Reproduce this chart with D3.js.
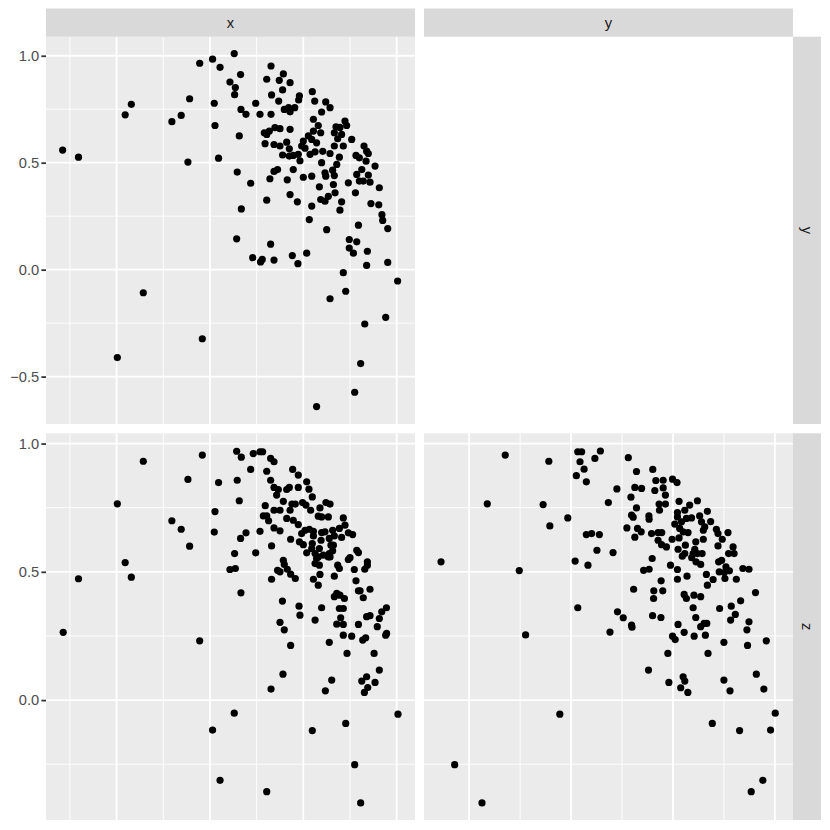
<!DOCTYPE html>
<html>
<head>
<meta charset="utf-8">
<script src="https://cdn.jsdelivr.net/npm/d3@7"></script>
<style>
  body { margin: 0; background: #fff; }
  svg text { font-family: "Liberation Sans", Arial, sans-serif; }
</style>
</head>
<body>
<div class="vis-facets"></div>
<script>
// facet labels
const colVars = ["x", "y"];
const rowVars = ["y", "z"];

// panel x|y : [x, y]
const panelXY = [
  [-0.789,0.559],[-0.704,0.526],[-0.454,0.724],[-0.421,0.773],[-0.204,0.692],[-0.154,0.721],[-0.109,0.799],[-0.118,0.503],[-0.055,0.965],[0.014,0.984],
  [0.054,0.946],[0.130,1.010],[0.023,0.778],[0.027,0.674],[0.046,0.521],[0.107,0.877],[0.136,0.851],[0.132,0.818],[0.164,0.912],[0.166,0.749],
  [0.193,0.726],[0.157,0.625],[0.146,0.456],[0.168,0.284],[0.218,0.404],[0.245,0.778],[0.268,0.726],[0.327,0.952],[0.304,0.890],[0.371,0.885],
  [0.393,0.915],[0.429,0.874],[0.389,0.840],[0.330,0.817],[0.368,0.788],[0.479,0.812],[0.475,0.793],[0.327,0.726],[0.398,0.749],[0.421,0.757],
  [0.454,0.757],[0.429,0.738],[0.548,0.832],[0.561,0.788],[0.620,0.784],[0.598,0.737],[0.643,0.757],[0.291,0.640],[0.318,0.648],[0.348,0.664],
  [0.375,0.659],[0.429,0.656],[0.295,0.589],[0.304,0.632],[0.343,0.585],[0.375,0.578],[0.411,0.596],[0.425,0.565],[0.389,0.536],[0.425,0.531],
  [0.446,0.534],[0.473,0.539],[0.482,0.509],[0.491,0.578],[0.500,0.601],[0.509,0.568],[0.527,0.625],[0.554,0.648],[0.580,0.674],[0.554,0.703],
  [0.593,0.640],[0.545,0.609],[0.571,0.593],[0.536,0.539],[0.563,0.551],[0.598,0.500],[0.604,0.553],[0.643,0.543],[0.675,0.668],[0.696,0.665],
  [0.723,0.695],[0.732,0.674],[0.666,0.640],[0.684,0.612],[0.705,0.632],[0.759,0.609],[0.714,0.578],[0.666,0.578],[0.693,0.526],[0.679,0.492],
  [0.657,0.465],[0.666,0.440],[0.661,0.398],[0.620,0.437],[0.616,0.453],[0.586,0.387],[0.545,0.437],[0.500,0.432],[0.446,0.468],[0.414,0.420],
  [0.321,0.425],[0.343,0.459],[0.362,0.468],[0.429,0.351],[0.468,0.317],[0.304,0.325],[0.545,0.297],[0.593,0.328],[0.616,0.320],[0.634,0.343],
  [0.670,0.359],[0.705,0.317],[0.696,0.278],[0.741,0.406],[0.779,0.359],[0.786,0.445],[0.800,0.414],[0.782,0.534],[0.800,0.523],[0.813,0.468],
  [0.825,0.578],[0.839,0.554],[0.848,0.543],[0.836,0.507],[0.848,0.442],[0.821,0.414],[0.857,0.409],[0.884,0.484],[0.907,0.383],[0.862,0.309],
  [0.904,0.303],[0.921,0.257],[0.532,0.234],
  [0.925,0.230],[0.143,0.144],[0.625,0.187],[0.795,0.208],[0.952,0.192],[0.325,0.119],[0.746,0.141],[0.786,0.130],[0.746,0.101],[0.768,0.077],
  [0.843,0.086],[0.229,0.056],[0.271,0.036],[0.280,0.048],[0.343,0.045],[0.441,0.066],[0.471,0.028],[0.518,0.077],[0.839,0.020],[0.952,0.034],
  [0.714,-0.014],[1.005,-0.053],[-0.357,-0.108],[0.643,-0.136],[0.727,-0.101],[0.941,-0.223],[0.829,-0.254],[-0.041,-0.323],[-0.496,-0.411],[0.807,-0.439],
  [0.775,-0.573],[0.571,-0.640]
];

// panel x|z : [x, z]
const panelXZ = [
  [-0.704,0.473],[-0.496,0.765],[-0.454,0.536],[-0.421,0.479],[-0.357,0.931],[-0.204,0.699],[-0.154,0.666],[-0.118,0.860],[-0.109,0.600],[-0.041,0.955],
  [0.027,0.735],[0.023,0.655],[0.046,0.848],[0.143,0.970],[0.168,0.947],[0.146,0.857],[0.157,0.777],[0.193,0.652],[0.164,0.630],[0.132,0.571],
  [0.107,0.509],[0.136,0.513],[0.166,0.418],[0.218,0.899],[0.232,0.961],[0.268,0.968],[0.282,0.968],[0.245,0.574],[0.268,0.658],[0.296,0.758],
  [0.286,0.718],[0.304,0.718],[0.314,0.699],[0.304,0.892],[0.325,0.942],[0.343,0.929],[0.325,0.857],[0.343,0.829],[0.366,0.821],[0.357,0.799],
  [0.393,0.775],[0.343,0.740],[0.375,0.740],[0.330,0.601],[0.343,0.671],[0.375,0.660],[0.411,0.821],[0.425,0.829],[0.443,0.899],[0.473,0.877],
  [0.473,0.829],[0.439,0.764],[0.457,0.764],[0.429,0.740],[0.411,0.708],[0.446,0.701],[0.473,0.684],[0.496,0.770],[0.514,0.760],[0.539,0.740],
  [0.518,0.851],[0.530,0.822],[0.548,0.792],[0.589,0.749],[0.580,0.717],[0.598,0.714],[0.634,0.714],[0.621,0.770],[0.643,0.764],[0.491,0.649],
  [0.509,0.662],[0.532,0.666],[0.554,0.658],[0.554,0.640],[0.432,0.627],[0.479,0.617],[0.500,0.606],[0.548,0.610],[0.598,0.653],[0.616,0.656],
  [0.595,0.623],[0.639,0.630],[0.657,0.662],[0.666,0.640],[0.693,0.669],[0.714,0.710],[0.723,0.682],[0.705,0.634],[0.741,0.652],[0.764,0.645],
  [0.518,0.574],[0.545,0.591],[0.563,0.571],[0.571,0.552],[0.580,0.558],[0.586,0.591],[0.607,0.565],[0.634,0.558],[0.639,0.571],[0.648,0.604],
  [0.661,0.604],[0.657,0.582],[0.643,0.558],[0.563,0.532],[0.586,0.526],[0.589,0.490],[0.554,0.471],[0.580,0.448],[0.598,0.360],[0.666,0.483],
  [0.684,0.526],[0.693,0.513],[0.741,0.548],[0.750,0.555],[0.786,0.584],[0.795,0.575],[0.773,0.509],[0.782,0.465],[0.795,0.426],[0.804,0.426],
  [0.821,0.399],[0.829,0.510],[0.843,0.539],[0.843,0.526],[0.857,0.432],[0.666,0.403],[0.679,0.416],[0.696,0.409],[0.720,0.396],[0.693,0.357],
  [0.714,0.357],[0.700,0.321],[0.388,0.386],[0.477,0.366],[0.482,0.331],[0.563,0.312],[0.375,0.303],[0.362,0.506],[0.375,0.500],[0.330,0.471],
  [0.393,0.545],[0.398,0.529],[0.414,0.510],[0.432,0.491],[0.457,0.474],[0.795,0.295],[0.839,0.325],[0.857,0.329],[0.907,0.318],[0.920,0.344],
  [0.945,0.360],[0.679,0.296],[0.714,0.295],[0.896,0.286],
  [-0.786,0.264],[-0.055,0.231],[0.398,0.274],[0.432,0.213],[0.714,0.253],[0.759,0.249],[0.818,0.234],[0.834,0.243],[0.946,0.260],[0.941,0.253],
  [0.639,0.225],[0.734,0.182],[0.879,0.182],[0.907,0.117],[0.391,0.101],[0.652,0.078],[0.839,0.091],[0.813,0.074],[0.884,0.069],[0.845,0.049],
  [0.827,0.030],[0.618,0.036],[0.327,0.043],[0.130,-0.051],[0.014,-0.117],[0.548,-0.119],[0.727,-0.091],[1.007,-0.055],[0.775,-0.252],[0.054,-0.313],
  [0.304,-0.357],[0.807,-0.401]
];

// panel y|z : [y, z]
const panelYZ = [
  [-0.638,0.539],[-0.254,0.505],[-0.323,0.955],[-0.411,0.765],[-0.137,0.762],[-0.109,0.931],[-0.104,0.679],[-0.016,0.710],[0.020,0.542],[0.083,0.526],
  [0.033,0.360],[0.033,0.968],[0.052,0.968],[0.044,0.929],[0.064,0.900],[0.026,0.875],[0.075,0.851],[0.117,0.942],[0.144,0.971],[0.225,0.823],
  [0.183,0.770],[0.075,0.645],[0.101,0.649],[0.139,0.645],[0.127,0.584],[0.206,0.575],[0.228,0.344],[0.256,0.321],[0.281,0.945],[0.321,0.891],
  [0.401,0.899],[0.313,0.829],[0.346,0.825],[0.294,0.791],[0.416,0.856],[0.452,0.857],[0.411,0.817],[0.452,0.827],[0.463,0.799],[0.498,0.861],
  [0.520,0.848],[0.321,0.749],[0.432,0.764],[0.463,0.764],[0.434,0.740],[0.297,0.721],[0.305,0.713],[0.382,0.718],[0.383,0.705],[0.274,0.671],
  [0.326,0.669],[0.344,0.656],[0.313,0.635],[0.395,0.649],[0.427,0.653],[0.445,0.653],[0.427,0.623],[0.444,0.606],[0.468,0.597],[0.496,0.627],
  [0.530,0.775],[0.522,0.731],[0.558,0.740],[0.582,0.760],[0.620,0.777],[0.522,0.714],[0.509,0.686],[0.542,0.695],[0.566,0.708],[0.591,0.710],
  [0.631,0.718],[0.669,0.736],[0.640,0.695],[0.685,0.696],[0.533,0.669],[0.550,0.656],[0.574,0.653],[0.530,0.632],[0.649,0.662],[0.656,0.675],
  [0.713,0.666],[0.721,0.649],[0.770,0.653],[0.742,0.627],[0.649,0.627],[0.612,0.617],[0.561,0.604],[0.525,0.588],[0.546,0.561],[0.558,0.571],
  [0.607,0.588],[0.599,0.571],[0.620,0.571],[0.643,0.571],[0.592,0.555],[0.613,0.539],[0.636,0.529],[0.721,0.601],[0.795,0.597],[0.773,0.571],
  [0.800,0.571],[0.724,0.539],[0.739,0.545],[0.760,0.519],[0.727,0.500],[0.752,0.497],[0.777,0.504],[0.755,0.474],[0.811,0.471],[0.843,0.513],
  [0.873,0.510],[0.905,0.419],[0.832,0.387],[0.786,0.366],[0.806,0.334],[0.783,0.312],[0.873,0.305],[0.729,0.357],[0.697,0.470],[0.669,0.448],
  [0.664,0.490],[0.569,0.483],[0.522,0.471],[0.522,0.509],[0.488,0.526],[0.398,0.552],[0.356,0.506],[0.383,0.510],[0.442,0.465],[0.406,0.426],
  [0.450,0.426],[0.405,0.396],[0.307,0.432],[0.555,0.412],[0.566,0.396],[0.603,0.409],[0.636,0.403],[0.599,0.360],[0.612,0.322],[0.653,0.299],
  [0.666,0.299],[0.400,0.329],[0.441,0.322],[0.525,0.295],[0.297,0.292],
  [-0.223,0.254],[0.191,0.265],[0.299,0.284],[0.555,0.264],[0.498,0.249],[0.511,0.236],[0.604,0.249],[0.636,0.286],[0.659,0.253],[0.863,0.274],
  [0.750,0.225],[0.866,0.213],[0.958,0.231],[0.475,0.182],[0.672,0.182],[0.380,0.117],[0.480,0.069],[0.550,0.091],[0.558,0.074],[0.538,0.048],
  [0.573,0.030],[0.750,0.078],[0.780,0.036],[0.909,0.101],[0.946,0.043],[-0.055,-0.055],[0.693,-0.091],[0.827,-0.119],[0.979,-0.117],[1.002,-0.051],
  [-0.571,-0.252],[-0.437,-0.401],[0.941,-0.313],[0.884,-0.357]
];

// grid breaks
const majorBreaks = [-0.5, 0, 0.5, 1];
const minorBreaks = [-0.75, -0.25, 0.25, 0.75];

const draw = () => {
  const width = 830, height = 830;
  const colRange = [[46, 415], [424, 793]];
  const rowRange = [[36.7, 424], [433.3, 820]];
  const stripTop = [8.5, 36.7];
  const stripRight = [793, 821];

  const svg = d3.select(".vis-facets")
    .append("svg")
    .attr("width", width)
    .attr("height", height);

  // free scales per column / row
  const xScale = d3.scaleLinear().domain([-0.878, 1.098]).range(colRange[0]);
  const yColScale = d3.scaleLinear().domain([-0.7215, 1.089]).range(colRange[1]);
  const yRowScale = d3.scaleLinear().domain([-0.7215, 1.089]).range([rowRange[0][1], rowRange[0][0]]);
  const zRowScale = d3.scaleLinear().domain([-0.4675, 1.040]).range([rowRange[1][1], rowRange[1][0]]);

  const panels = [
    { data: panelXY, h: xScale, v: yRowScale, col: 0, row: 0 },
    { data: panelXZ, h: xScale, v: zRowScale, col: 0, row: 1 },
    { data: panelYZ, h: yColScale, v: zRowScale, col: 1, row: 1 }
  ];

  const inDomain = (s) => (b) => b >= d3.min(s.domain()) && b <= d3.max(s.domain());

  panels.forEach((p) => {
    const [x0, x1] = colRange[p.col];
    const [y0, y1] = rowRange[p.row];
    const g = svg.append("g").attr("class", "panel");

    g.append("rect")
      .attr("x", x0).attr("y", y0)
      .attr("width", x1 - x0).attr("height", y1 - y0)
      .attr("fill", "#EBEBEB");

    const grid = (breaks, w) => {
      g.selectAll(null)
        .data(breaks.filter(inDomain(p.h)))
        .enter().append("line")
        .attr("x1", (d) => p.h(d)).attr("x2", (d) => p.h(d))
        .attr("y1", y0).attr("y2", y1)
        .attr("stroke", "#fff").attr("stroke-width", w);
      g.selectAll(null)
        .data(breaks.filter(inDomain(p.v)))
        .enter().append("line")
        .attr("y1", (d) => p.v(d)).attr("y2", (d) => p.v(d))
        .attr("x1", x0).attr("x2", x1)
        .attr("stroke", "#fff").attr("stroke-width", w);
    };
    grid(minorBreaks, 0.9);
    grid(majorBreaks, 1.8);

    g.selectAll("circle")
      .data(p.data)
      .enter().append("circle")
      .attr("cx", (d) => p.h(d[0]))
      .attr("cy", (d) => p.v(d[1]))
      .attr("r", 3.6)
      .attr("fill", "#000");
  });

  // left axes
  [yRowScale, zRowScale].forEach((s) => {
    const ax = svg.append("g")
      .attr("transform", "translate(" + colRange[0][0] + ",0)")
      .call(d3.axisLeft(s)
        .tickValues(majorBreaks.filter(inDomain(s)))
        .tickFormat(d3.format(".1f"))
        .tickSize(4.6)
        .tickPadding(2.2));
    ax.select(".domain").remove();
    ax.selectAll(".tick line").attr("stroke", "#333").attr("stroke-width", 1.8);
    ax.selectAll(".tick text")
      .attr("fill", "#4D4D4D")
      .style("font-size", "14.7px");
  });

  // top strips
  colVars.forEach((v, i) => {
    const [x0, x1] = colRange[i];
    svg.append("rect")
      .attr("x", x0).attr("y", stripTop[0])
      .attr("width", x1 - x0).attr("height", stripTop[1] - stripTop[0])
      .attr("fill", "#D9D9D9");
    svg.append("text")
      .attr("x", (x0 + x1) / 2)
      .attr("y", (stripTop[0] + stripTop[1]) / 2)
      .attr("dy", "0.35em")
      .attr("text-anchor", "middle")
      .attr("fill", "#1A1A1A")
      .style("font-size", "14.7px")
      .text(v);
  });

  // right strips
  rowVars.forEach((v, i) => {
    const [y0, y1] = rowRange[i];
    const cx = (stripRight[0] + stripRight[1]) / 2;
    const cy = (y0 + y1) / 2;
    svg.append("rect")
      .attr("x", stripRight[0]).attr("y", y0)
      .attr("width", stripRight[1] - stripRight[0]).attr("height", y1 - y0)
      .attr("fill", "#D9D9D9");
    svg.append("text")
      .attr("transform", "translate(" + cx + "," + cy + ") rotate(90)")
      .attr("dy", "0.35em")
      .attr("text-anchor", "middle")
      .attr("fill", "#1A1A1A")
      .style("font-size", "14.7px")
      .text(v);
  });
};

draw();
</script>
</body>
</html>
